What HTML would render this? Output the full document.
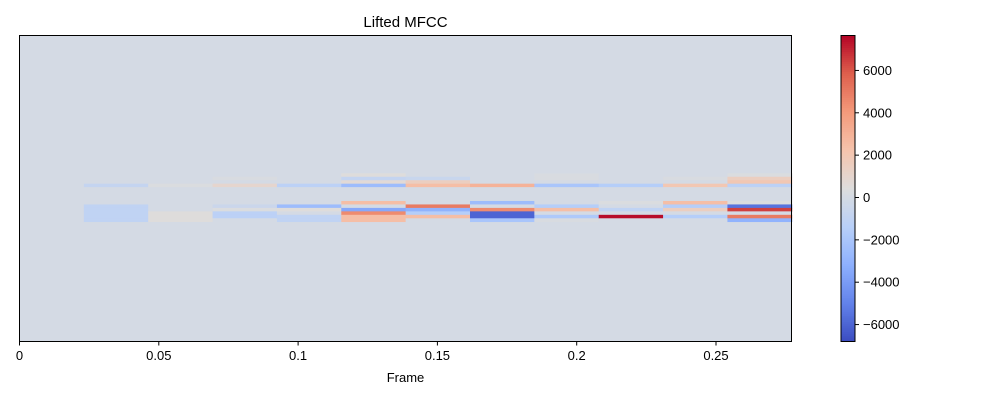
<!DOCTYPE html>
<html><head><meta charset="utf-8"><style>
body{margin:0;background:#fff;}
svg text{font-family:"Liberation Sans","DejaVu Sans",sans-serif;fill:#000;}
</style></head><body>
<svg id="chart" width="1000" height="400" xmlns="http://www.w3.org/2000/svg">
<text x="405.5" y="27" font-size="15" text-anchor="middle">Lifted MFCC</text>
<g id="cells"></g>
<rect x="19.5" y="35.5" width="772" height="306" fill="none" stroke="#000" stroke-width="1"/>
<g id="xaxis"></g>
<text x="405.5" y="382" font-size="13" text-anchor="middle">Frame</text>
<g id="cbar"></g>
</svg>
<script>
const frameTimes = [0,0.0231,0.0462,0.0693,0.0924,0.1155,0.1386,0.1617,0.1848,0.2079,0.231,0.2541];
const frameWidth = 0.0231;
const xTicks = [0,0.05,0.1,0.15,0.2,0.25];
const xTickLabels = ["0","0.05","0.1","0.15","0.2","0.25"];
const cbTicks = [-6000,-4000,-2000,0,2000,4000,6000];
const vmin = -6800, vmax = 7650;
// rows 0..13 (top to bottom in the active band), per frame
const col0 = [0,0,0,0,0,0,0,0,0,0,0,0,0,0];
const col1 = [0,0,0,-800,0,0,0,0,0,-1000,-1000,-1000,-1000,-1000];
const col2 = [0,0,0,300,0,0,0,0,0,0,0,500,500,500];
const col3 = [0,200,0,1000,0,0,0,0,0,-500,300,-1200,-1200,0];
const col4 = [0,0,0,-1200,0,0,0,0,0,-2500,500,0,-1000,-1000];
const col5 = [500,-800,700,-2500,0,0,0,0,2500,0,-3500,4500,2500,2500];
const col6 = [0,-600,1500,2500,0,0,0,0,0,5000,-3000,-1500,2500,0];
const col7 = [0,0,0,3000,0,0,0,0,-2500,0,4500,-6000,-6000,-2000];
const col8 = [200,200,0,-2000,0,0,0,0,0,-1500,2500,0,-1800,200];
const col9 = [0,0,0,-1500,0,0,0,0,300,0,-1000,0,7500,0];
const col10 = [0,200,0,2000,0,0,0,0,2500,-1500,1500,0,-1500,0];
const col11 = [300,1500,2000,-1200,0,0,0,0,300,-5500,6500,0,5000,-3000];
const columns = [col0,col1,col2,col3,col4,col5,col6,col7,col8,col9,col10,col11];

const X0=19.5, XPU=2786, Y0=35.5, H=306, bandTop=173.3, rowH=3.46;
const xs = t => X0 + t*XPU;
const NS="http://www.w3.org/2000/svg";
const anchors=[[0,[59,76,192]],[0.125,[98,130,234]],[0.25,[141,176,254]],[0.375,[184,208,249]],[0.5,[221,221,221]],[0.625,[245,196,173]],[0.75,[244,154,123]],[0.875,[222,96,77]],[1,[180,4,38]]];
function cmap(v){let f=(v-vmin)/(vmax-vmin);f=Math.max(0,Math.min(1,f));
 for(let i=1;i<anchors.length;i++){if(f<=anchors[i][0]){const a=anchors[i-1],b=anchors[i];const u=(f-a[0])/(b[0]-a[0]);
 const c=a[1].map((x,k)=>Math.round(x+(b[1][k]-x)*u));return `rgb(${c})`;}}return 'rgb(180,4,38)';}
function el(t,at){const e=document.createElementNS(NS,t);for(const k in at)e.setAttribute(k,at[k]);return e;}
const cells=document.getElementById('cells');
const bg=el('rect',{x:X0,y:Y0,width:772,height:H,fill:cmap(0)});


cells.appendChild(bg);
columns.forEach((col,ci)=>{col.forEach((v,ri)=>{
 const r=el('rect',{x:xs(frameTimes[ci]),y:bandTop+ri*rowH,width:frameWidth*XPU+0.5,height:rowH+0.3,fill:cmap(v)});
 
 
 cells.appendChild(r);});});
const xa=document.getElementById('xaxis');
xTicks.forEach((t,i)=>{const x=xs(t);
 const l=el('line',{x1:x,x2:x,y1:341.5,y2:345.5,stroke:'#000'});
 
 
 xa.appendChild(l);
 const tx=el('text',{x:x,y:360,'font-size':13,'text-anchor':'middle'});tx.textContent=xTickLabels[i];
 
 
 xa.appendChild(tx);});
const cb=document.getElementById('cbar');
const CBX=841,CBW=14,CBT=35.5,CBB=341.5;
const cy=v=>CBB-(v-vmin)/(vmax-vmin)*(CBB-CBT);
for(let i=0;i<153;i++){const v0=vmin+(vmax-vmin)*i/153,v1=vmin+(vmax-vmin)*(i+1)/153;
 const r=el('rect',{x:CBX,y:cy(v1),width:CBW,height:cy(v0)-cy(v1)+0.3,fill:cmap((v0+v1)/2)});
 
 
 cb.appendChild(r);}
const fr=el('rect',{x:CBX,y:CBT,width:CBW,height:CBB-CBT,fill:'none',stroke:'#000'});


cb.appendChild(fr);
cbTicks.forEach(v=>{const y=cy(v);
 const l=el('line',{x1:CBX+CBW,x2:CBX+CBW+4,y1:y,y2:y,stroke:'#000'});
 
 
 cb.appendChild(l);
 const tx=el('text',{x:CBX+CBW+8,y:y+4.5,'font-size':13});tx.textContent=v<0?'\u2212'+(-v):String(v);
 
 
 cb.appendChild(tx);});
</script>
</body></html>
